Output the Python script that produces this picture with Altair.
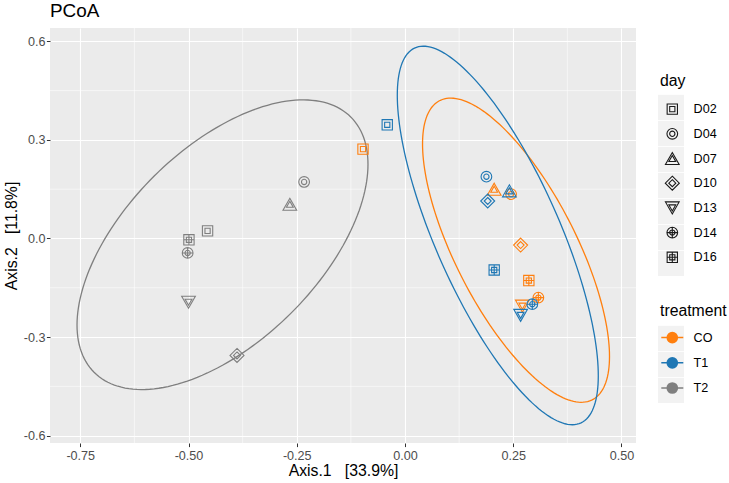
import altair as alt
import pandas as pd

# ---------------- data ----------------
treatments = ["CO", "T1", "T2"]
days = ["D02", "D04", "D07", "D10", "D13", "D14", "D16"]
colors = ["#FF7F0E", "#1F77B4", "#7F7F7F"]

# PCoA coordinates, one value per day (D02, D04, D07, D10, D13, D14, D16)
co_x = [-0.097, 0.245, 0.206, 0.267, 0.271, 0.308, 0.286]
co_y = [0.272, 0.135, 0.150, -0.020, -0.206, -0.180, -0.128]
t1_x = [-0.041, 0.188, 0.241, 0.191, 0.267, 0.294, 0.206]
t1_y = [0.346, 0.188, 0.145, 0.114, -0.234, -0.200, -0.096]
t2_x = [-0.456, -0.233, -0.266, -0.388, -0.500, -0.502, -0.499]
t2_y = [0.023, 0.172, 0.104, -0.356, -0.194, -0.044, -0.004]

# 95% ellipse outlines (CO, T1, T2):
# centre, half-extent along x / y, phase of the top-most point (degrees)
ell_cx = [0.2564, 0.2143, -0.4215]
ell_cy = [-0.0357, 0.0092, -0.019]
ell_ax = [0.2159, 0.2321, 0.336]
ell_ay = [0.4628, 0.576, 0.4408]
ell_phi = [134.3, 137.8, 56.3]

x_ticks = [-0.75, -0.5, -0.25, 0.0, 0.25, 0.5]
y_ticks = [-0.6, -0.3, 0.0, 0.3, 0.6]
x_minor = [-0.625, -0.375, -0.125, 0.125, 0.375]
y_minor = [-0.45, -0.15, 0.15, 0.45]

x_title = "Axis.1\u00a0\u00a0\u00a0[33.9%]"
y_title = "Axis.2\u00a0\u00a0\u00a0[11.8%]"

KEY_BG = "#F2F2F2"

# ---------------- tables ----------------
rows = []
for tr, xs, ys in zip(treatments, [co_x, t1_x, t2_x], [co_y, t1_y, t2_y]):
    for d, xv, yv in zip(days, xs, ys):
        rows.append({"treatment": tr, "day": d, "x": xv, "y": yv,
                     "day_key": d, "treat_key": tr})
pts = pd.DataFrame(rows)

ell = pd.DataFrame({"treatment": treatments, "cx": ell_cx, "cy": ell_cy,
                    "ax": ell_ax, "ay": ell_ay, "phi": ell_phi})
xminor_df = pd.DataFrame({"v": x_minor})
yminor_df = pd.DataFrame({"v": y_minor})

# ---------------- symbol paths (double outlines, like the figure) ----------------
def f(v):
    return f"{v:.3f}"

def circ(r):
    return f"M{f(r)},0A{f(r)},{f(r)} 0 1,1 {f(-r)},0A{f(r)},{f(r)} 0 1,1 {f(r)},0Z"

def sq(h):
    return f"M{f(-h)},{f(-h)}H{f(h)}V{f(h)}H{f(-h)}Z"

def tri(w, h, up=True):
    s = 1 if up else -1
    return f"M0,{f(-s*h)}L{f(w)},{f(s*h)}L{f(-w)},{f(s*h)}Z"

def dia(r):
    return f"M0,{f(-r)}L{f(r)},0L0,{f(r)}L{f(-r)},0Z"

def cross(r):
    return f"M{f(-r)},0H{f(r)}M0,{f(-r)}V{f(r)}"

shape_paths = [
    sq(1.03) + sq(0.52),
    circ(1.07) + circ(0.53),
    tri(1.37, 1.2, True) + tri(0.68, 0.6, True),
    dia(1.4) + dia(0.7),
    tri(1.37, 1.2, False) + tri(0.68, 0.6, False),
    circ(1.07) + cross(1.07) + circ(0.53),
    sq(1.03) + cross(1.03) + sq(0.52),
]

# legend key for treatment: a line through a solid dot (made of rings)
ring_path = "M-2.2,0H2.2" + "".join(circ(r) for r in [0.15, 0.3, 0.45, 0.6, 0.75, 0.9, 1.02])
# grey key box behind the legend symbols
key_box = "M-1,-0.97H1V0.97H-1Z"

FONT = "Liberation Sans"

xscale = alt.Scale(domain=[-0.8199, 0.5335], nice=False, zero=False)
yscale = alt.Scale(domain=[-0.6224, 0.6405], nice=False, zero=False)
stroke_scale = alt.Scale(domain=treatments, range=colors)
shape_scale = alt.Scale(domain=days, range=shape_paths)

legend_common = dict(
    orient="none", padding=0, titleFont=FONT, titleFontSize=15.8, titleFontWeight="normal",
    titleColor="black", labelFont=FONT, labelFontSize=12.6, labelColor="black",
    gridAlign="all",
)

treat_legend = alt.Legend(title="treatment", legendX=610, legendY=275.5,
                          symbolType=ring_path, symbolStrokeWidth=1.5, symbolSize=100,
                          symbolOffset=6, labelOffset=15,
                          symbolFillColor="transparent", rowPadding=8.2, titlePadding=12,
                          zindex=2, **legend_common)
day_legend = alt.Legend(title="day", legendX=610, legendY=46, symbolSize=100,
                        symbolOffset=6, labelOffset=15,
                        symbolStrokeWidth=1.1, symbolStrokeColor="#1a1a1a",
                        symbolFillColor="transparent", rowPadding=5.7, titlePadding=13,
                        zindex=2, **legend_common)

key_common = dict(orient="none", padding=0, gridAlign="all", title=None,
                  symbolType=key_box, symbolStrokeWidth=0, symbolOpacity=1,
                  symbolFillColor=KEY_BG, symbolOffset=0, labelOffset=0,
                  labelExpr="''", rowPadding=0, zindex=0)
day_key_legend = alt.Legend(legendX=608, legendY=66.4, **key_common)
treat_key_legend = alt.Legend(legendX=608, legendY=297.4, **key_common)

def xaxis():
    return alt.Axis(values=x_ticks, title=x_title,
                    labelExpr="replace(format(datum.value, '.2f'), '\u2212', '-')")

def yaxis():
    return alt.Axis(values=y_ticks, title=y_title,
                    labelExpr="replace(format(datum.value, '.1f'), '\u2212', '-')")

minor_x = alt.Chart(xminor_df).mark_rule(color="white", strokeWidth=0.55).encode(
    x=alt.X("v:Q", scale=xscale, axis=xaxis()))
minor_y = alt.Chart(yminor_df).mark_rule(color="white", strokeWidth=0.55).encode(
    y=alt.Y("v:Q", scale=yscale, axis=yaxis()))

# invisible layers that only provide the grey legend-key backgrounds
day_keys = alt.Chart(pts).mark_point(filled=True, color=KEY_BG, opacity=0).encode(
    x=alt.X("x:Q", scale=xscale, axis=xaxis()),
    y=alt.Y("y:Q", scale=yscale, axis=yaxis()),
    size=alt.Size("day_key:O", scale=alt.Scale(range=[676, 676]), legend=day_key_legend))
treat_keys = alt.Chart(pts).mark_point(filled=True, color=KEY_BG, opacity=0).encode(
    x=alt.X("x:Q", scale=xscale, axis=xaxis()),
    y=alt.Y("y:Q", scale=yscale, axis=yaxis()),
    size=alt.Size("treat_key:O", scale=alt.Scale(range=[676, 676]), legend=treat_key_legend))

ellipses = alt.Chart(ell).transform_calculate(
    t="sequence(0, 361, 2)"
).transform_flatten(["t"]).transform_calculate(
    ex="datum.cx + datum.ax * cos(datum.t * PI / 180)",
    ey="datum.cy + datum.ay * cos((datum.t - datum.phi) * PI / 180)",
).mark_line(strokeWidth=1.3, clip=True).encode(
    x=alt.X("ex:Q", scale=xscale, axis=xaxis()),
    y=alt.Y("ey:Q", scale=yscale, axis=yaxis()),
    stroke=alt.Stroke("treatment:N", scale=stroke_scale, legend=treat_legend),
    order=alt.Order("t:Q"),
)

points = alt.Chart(pts).mark_point(filled=False, size=100, strokeWidth=1.1, opacity=1).encode(
    x=alt.X("x:Q", scale=xscale, axis=xaxis()),
    y=alt.Y("y:Q", scale=yscale, axis=yaxis()),
    stroke=alt.Stroke("treatment:N", scale=stroke_scale, legend=treat_legend),
    shape=alt.Shape("day:N", scale=shape_scale, legend=day_legend),
)

chart = alt.layer(minor_x, minor_y, day_keys, treat_keys, ellipses, points).resolve_scale(
    size="independent"
).properties(
    width=586, height=415,
    background="white",
    padding={"left": 50, "top": 28, "right": 93, "bottom": 40},
    autosize=alt.AutoSizeParams(type="none"),
    title=alt.TitleParams("PCoA", anchor="start", frame="group", font=FONT, fontSize=18.9,
                          fontWeight="normal", color="black", offset=7),
).configure_view(
    fill="#EBEBEB", strokeWidth=0
).configure_axis(
    domain=False, grid=True, gridColor="white", gridWidth=1.1,
    tickColor="#333333", tickSize=3.6, tickWidth=1,
    labelFont=FONT, labelFontSize=12.6, labelColor="#4D4D4D",
    titleFont=FONT, titleFontSize=15.8, titleFontWeight="normal", titleColor="black",
).configure_axisX(
    labelPadding=2.7, titlePadding=2
).configure_axisY(
    labelPadding=1.5, titlePadding=4
)

chart.save("out.html", embed_options={"renderer": "svg", "actions": False})
